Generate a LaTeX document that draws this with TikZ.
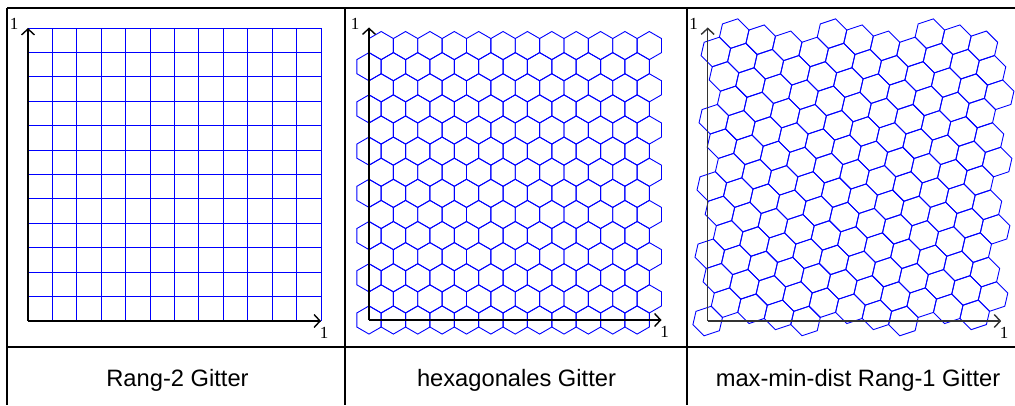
\documentclass[tikz,border=0pt]{standalone}
\usepackage{fontspec}
\setmainfont{Liberation Sans}
\newfontfamily\numfont{Liberation Serif}
\usetikzlibrary{arrows.meta}

\tikzset{
  tabline/.style={line width=2.2pt},
  gridline/.style={blue, line width=0.9pt},
  axisline/.style={line width=1.4pt, ->},
  unitlabel/.style={font=\numfont\fontsize{17}{20}\selectfont, inner sep=0pt},
  caption/.style={font=\fontsize{23.7}{28}\selectfont, anchor=base, inner sep=0pt}
}

\begin{document}
\begin{tikzpicture}[x=1pt, y=1pt, >={Straight Barb[length=6pt,width=13pt]}]
\useasboundingbox (0,0) rectangle (1015,405);
% table
\draw[tabline] (7,397) -- (1015,397);
\draw[tabline] (7,58) -- (1015,58);
\draw[tabline] (7,397) -- (7,0);
\draw[tabline] (345,397) -- (345,0);
\draw[tabline] (687,397) -- (687,0);
% Rang-2 grid
\begin{scope}[shift={(28,84)}, x=293pt, y=293pt]
  \foreach \i in {0,...,12} {
    \draw[gridline] (\i/12,0) -- (\i/12,1);
    \draw[gridline] (0,\i/12) -- (1,\i/12);
  }
  \draw[axisline] (0,0) -- (1,0);
  \draw[axisline] (0,0) -- (0,1);
  \node[unitlabel, xshift=3pt, yshift=-11.5pt] (xoneA) at (1,0) {1};
  \node[unitlabel, xshift=-14pt, yshift=4pt] (yoneA) at (0,1) {1};
\end{scope}
% hexagonal lattice
\begin{scope}[shift={(369,85)}, x=292.5pt, y=292.5pt]
  \foreach \j in {0,...,13} {
    \foreach \i in {0,...,11} {
      \pgfmathsetmacro{\cx}{(\i+0.5*mod(\j,2))/12}
      \pgfmathsetmacro{\cy}{\j*sqrt(3)/24}
      \draw[gridline, shift={(\cx,\cy)}] (30:0.04811) -- (90:0.04811) -- (150:0.04811)
        -- (210:0.04811) -- (270:0.04811) -- (330:0.04811) -- cycle;
    }
  }
  \draw[axisline] (0,0) -- (1,0);
  \draw[axisline] (0,0) -- (0,1);
  \node[unitlabel, xshift=3pt, yshift=-11.5pt] (xoneB) at (1,0) {1};
  \node[unitlabel, xshift=-14pt, yshift=4pt] (yoneB) at (0,1) {1};
\end{scope}
% rank-1 lattice, N=144, z=(1,33)
\begin{scope}[shift={(707.7,84)}, x=293.5pt, y=293.5pt]
  \foreach \k in {0,...,143} {
    \pgfmathsetmacro{\px}{\k/144}
    \pgfmathsetmacro{\py}{mod(33*\k,144)/144}
    \draw[gridline, shift={(\px,\py)}, x=2.0382pt, y=2.0382pt]
      (7.25,1.75) -- (1.75,7.25) -- (-5.75,4.75)
      -- (-7.25,-1.75) -- (-1.75,-7.25) -- (5.75,-4.75) -- cycle;
  }
  \draw[axisline, black!80] (0,0) -- (1,0);
  \draw[axisline, black!80] (0,0) -- (0,1);
  \node[unitlabel, xshift=3pt, yshift=-11.5pt] (xoneC) at (1,0) {1};
  \node[unitlabel, xshift=-14pt, yshift=4pt] (yoneC) at (0,1) {1};
\end{scope}
% captions
\node[caption] (capA) at (177.5,18.5) {Rang-2 Gitter};
\node[caption] (capB) at (516.5,18.5) {hexagonales Gitter};
\node[caption] (capC) at (858,18.5) {max-min-dist Rang-1 Gitter};
\end{tikzpicture}
\end{document}
